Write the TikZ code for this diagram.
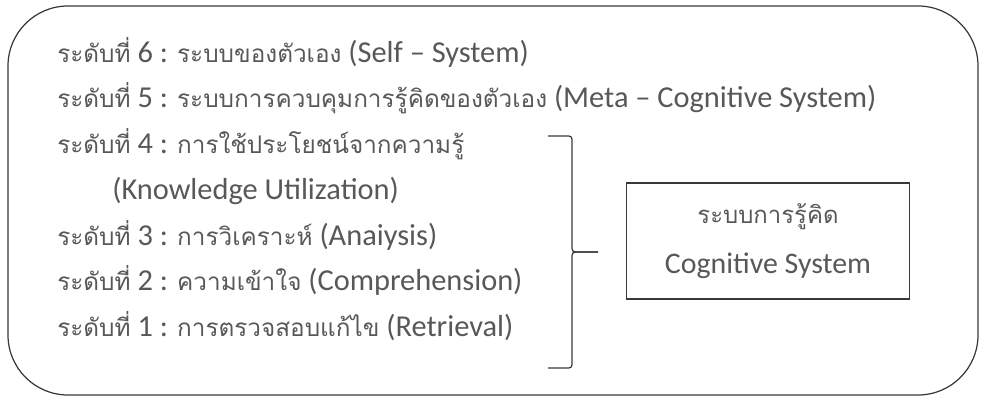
\documentclass[tikz,border=0pt]{standalone}
\usepackage{fontspec}
\usepackage{tikz}
\usepackage{xcolor}
\usetikzlibrary{positioning}
\setmainfont{Carlito}
\newfontfamily\thaifont[Script=Thai,Scale=0.8]{Loma}
\newcommand{\thaitxt}[1]{{\thaifont #1}}
\definecolor{ink}{RGB}{88, 88, 88}
\definecolor{frameline}{RGB}{55, 58, 58}
\tikzstyle{frame} = [
    draw=frameline,
    line width=0.7pt,
    rounded corners=1.2cm
]
\tikzstyle{level} = [
    inner sep=0pt,
    text=ink,
    font=\fontsize{17.3}{22}\selectfont
]
\tikzstyle{sysbox} = [
    rectangle,
    draw=frameline,
    line width=0.7pt,
    minimum width=5.66cm,
    minimum height=2.32cm,
    align=center,
    text=ink,
    font=\fontsize{17}{30}\selectfont
]
\tikzstyle{brace} = [
    draw=frameline,
    line width=0.7pt
]

\begin{document}
\begin{tikzpicture}[x=0.02cm, y=-0.02cm]
    \useasboundingbox (0,0) rectangle (985,399);
    \draw[frame] (8,6) rectangle (978,395);

    \node[level, anchor=base west] (l6) at (57,62)
        {\thaitxt{ระดับที่} 6 : \thaitxt{ระบบของตัวเอง} (Self – System)};
    \node[level, below=0.916cm of l6.base west, anchor=base west] (l5)
        {\thaitxt{ระดับที่} 5 : \thaitxt{ระบบการควบคุมการรู้คิดของตัวเอง} (Meta – Cognitive System)};
    \node[level, below=0.916cm of l5.base west, anchor=base west] (l4)
        {\thaitxt{ระดับที่} 4 : \thaitxt{การใช้ประโยชน์จากความรู้}};
    \node[level, below=0.916cm of l4.base west, anchor=base west, xshift=1.1cm] (l4en)
        {(Knowledge Utilization)};
    \node[level, below=1.832cm of l4.base west, anchor=base west] (l3)
        {\thaitxt{ระดับที่} 3 : \thaitxt{การวิเคราะห์} (Anaiysis)};
    \node[level, below=0.916cm of l3.base west, anchor=base west] (l2)
        {\thaitxt{ระดับที่} 2 : \thaitxt{ความเข้าใจ} (Comprehension)};
    \node[level, below=0.916cm of l2.base west, anchor=base west] (l1)
        {\thaitxt{ระดับที่} 1 : \thaitxt{การตรวจสอบแก้ไข} (Retrieval)};

    % brace for levels 1-4
    \coordinate (btop) at (548,136);
    \coordinate (btip) at (598,252);
    \coordinate (bbot) at (548,368);
    \draw[brace] (btop) -- (565,136) .. controls (572,136) .. (572,143)
        -- (572,245) .. controls (572,252) .. (580,252) -- (btip);
    \draw[brace] (btip) -- (580,252) .. controls (572,252) .. (572,259)
        -- (572,361) .. controls (572,368) .. (565,368) -- (bbot);

    \node[sysbox] (cog) at (768,241)
        {\thaitxt{ระบบการรู้คิด}\\[-2pt]Cognitive System};
\end{tikzpicture}
\end{document}
